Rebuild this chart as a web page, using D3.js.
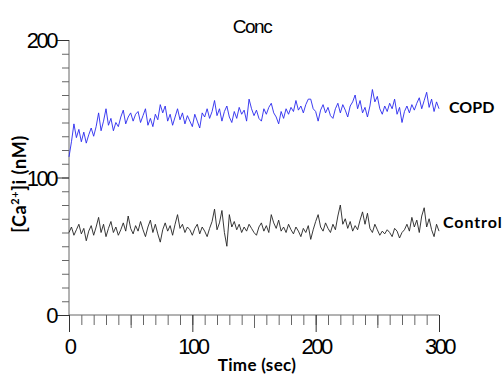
<!DOCTYPE html>
<html>
<head>
<meta charset="utf-8">
<script src="https://cdn.jsdelivr.net/npm/d3@7"></script>
<style>
  html, body { margin: 0; padding: 0; background: #fff; }
  svg { display: block; }
  .num { font-family: "Liberation Sans", Arial, sans-serif; letter-spacing: -2.5px; }
  .lbl { font-family: Lato, "Open Sans", sans-serif; font-weight: bold; }
</style>
</head>
<body>
<svg id="chart" width="504" height="376"></svg>
<script>
// samples every 2 s, 0..300 s
const sampleStep = 2;

const copdValues = [
  115, 126, 139, 129, 135, 126, 133, 125, 131, 136, 130, 137, 147, 134, 141, 150,
  138, 143, 134, 140, 137, 144, 149, 139, 144, 147, 141, 146, 148, 140, 145, 150,
  138, 143, 137, 146, 142, 153, 147, 152, 141, 146, 138, 144, 150, 142, 147, 139,
  145, 141, 137, 146, 141, 136, 147, 144, 150, 143, 148, 156, 145, 150, 141, 148,
  152, 144, 140, 148, 143, 151, 146, 149, 141, 157, 150, 145, 149, 143, 141, 150,
  146, 151, 154, 147, 144, 139, 148, 143, 150, 146, 151, 148, 156, 149, 152, 147,
  153, 157, 157, 150, 148, 141, 149, 153, 147, 151, 145, 143, 150, 154, 147, 153,
  149, 144, 152, 155, 160, 150, 156, 147, 151, 144, 152, 164, 155, 159, 150, 146,
  152, 148, 154, 150, 157, 146, 151, 140, 148, 152, 147, 153, 149, 154, 158, 150,
  156, 162, 151, 157, 148, 155, 150
];

const controlValues = [
  60, 64, 58, 62, 66, 59, 63, 54, 61, 65, 58, 64, 71, 60, 66, 57,
  63, 68, 60, 64, 58, 62, 67, 61, 72, 63, 59, 65, 61, 68, 62, 57,
  64, 69, 60, 66, 59, 53, 62, 67, 61, 65, 58, 66, 73, 63, 66, 60,
  64, 62, 58, 63, 66, 59, 64, 61, 57, 63, 68, 77, 62, 67, 76, 60,
  50, 73, 64, 68, 62, 66, 60, 64, 61, 66, 63, 60, 58, 64, 67, 61,
  65, 60, 73, 67, 63, 69, 61, 64, 60, 66, 62, 59, 64, 61, 57, 63,
  60, 65, 55, 62, 68, 73, 64, 61, 67, 63, 60, 66, 62, 72, 80, 66,
  70, 63, 68, 61, 65, 62, 69, 75, 66, 74, 63, 60, 66, 62, 58, 61,
  59, 62, 60, 57, 63, 61, 56, 60, 62, 66, 61, 71, 64, 69, 60, 72,
  78, 64, 70, 62, 57, 66, 61
];

const yMajorTicks = [0, 100, 200];
const xMajorTicks = [0, 100, 200, 300];
const seriesNames = ['COPD', 'Control'];

const svg = d3.select('#chart');

const x = d3.scaleLinear().domain([0, 300]).range([69, 439]);
const y = d3.scaleLinear().domain([0, 200]).range([315, 40]);

// y axis: minor ticks every 10, major with labels
svg.append('g')
  .attr('transform', 'translate(69,0)')
  .call(d3.axisLeft(y).tickValues(d3.range(0, 201, 10)).tickSize(7).tickFormat(''))
  .call(g => g.select('.domain').remove())
  .call(g => g.selectAll('line').attr('stroke', '#666'));

svg.append('g')
  .attr('transform', 'translate(69,0)')
  .call(d3.axisLeft(y).tickValues(yMajorTicks).tickSize(12).tickPadding(1).tickFormat(d3.format('d')))
  .call(g => g.select('.domain').attr('stroke', '#666').attr('d', `M0,${y(200)}V${y(0)}`))
  .call(g => g.selectAll('line').attr('stroke', '#333'))
  .call(g => g.selectAll('text')
    .attr('class', 'num')
    .attr('font-size', 22)
    .attr('fill', '#000')
    .attr('dy', '0.36em'));

// x axis: minor every 10 s, medium every 50 s, major every 100 s
svg.append('g')
  .attr('transform', `translate(0,${y(0)})`)
  .call(d3.axisBottom(x).tickValues(d3.range(0, 301, 10)).tickSize(10).tickFormat(''))
  .call(g => g.select('.domain').remove())
  .call(g => g.selectAll('line').attr('stroke', '#666'));

svg.append('g')
  .attr('transform', `translate(0,${y(0)})`)
  .call(d3.axisBottom(x).tickValues([50, 150, 250]).tickSize(13).tickFormat(''))
  .call(g => g.select('.domain').remove())
  .call(g => g.selectAll('line').attr('stroke', '#666'));

svg.append('g')
  .attr('transform', `translate(0,${y(0)})`)
  .call(d3.axisBottom(x).tickValues(xMajorTicks).tickSize(17).tickPadding(6).tickFormat(d3.format('d')))
  .call(g => g.select('.domain').attr('stroke', '#666').attr('d', `M${x(0)},0H${x(300)}`))
  .call(g => g.selectAll('line').attr('stroke', '#333'))
  .call(g => g.selectAll('text')
    .attr('class', 'num')
    .attr('font-size', 22)
    .attr('fill', '#000'));

// series lines
const line = d3.line()
  .x((d, i) => x(i * sampleStep))
  .y(d => y(d));

svg.append('path')
  .datum(copdValues)
  .attr('fill', 'none')
  .attr('stroke', '#2828ee')
  .attr('stroke-width', 0.9)
  .attr('d', line);

svg.append('path')
  .datum(controlValues)
  .attr('fill', 'none')
  .attr('stroke', '#222')
  .attr('stroke-width', 0.9)
  .attr('d', line);

// series labels
svg.append('text')
  .attr('class', 'lbl')
  .attr('x', 449).attr('y', 113)
  .attr('font-size', 16)
  .text(seriesNames[0]);

svg.append('text')
  .attr('class', 'lbl')
  .attr('x', 443).attr('y', 228)
  .attr('font-size', 16)
  .style('letter-spacing', '0.9px')
  .text(seriesNames[1]);

// title
svg.append('text')
  .attr('class', 'num')
  .attr('x', 252).attr('y', 33)
  .attr('text-anchor', 'middle')
  .attr('font-size', 19)
  .style('letter-spacing', '-1.5px')
  .text('Conc');

// axis titles
svg.append('text')
  .attr('class', 'lbl')
  .attr('x', 257).attr('y', 371)
  .attr('text-anchor', 'middle')
  .attr('font-size', 17)
  .style('letter-spacing', '0.3px')
  .text('Time (sec)');

const yTitle = svg.append('text')
  .attr('class', 'lbl')
  .attr('transform', 'translate(26,184) rotate(-90)')
  .attr('text-anchor', 'middle')
  .attr('font-size', 18)
  .style('letter-spacing', '0.6px');
yTitle.append('tspan').text('[Ca');
yTitle.append('tspan').attr('dy', -7).attr('font-size', 11).text('2+');
yTitle.append('tspan').attr('dy', 7).text(']i (nM)');
</script>
</body>
</html>
